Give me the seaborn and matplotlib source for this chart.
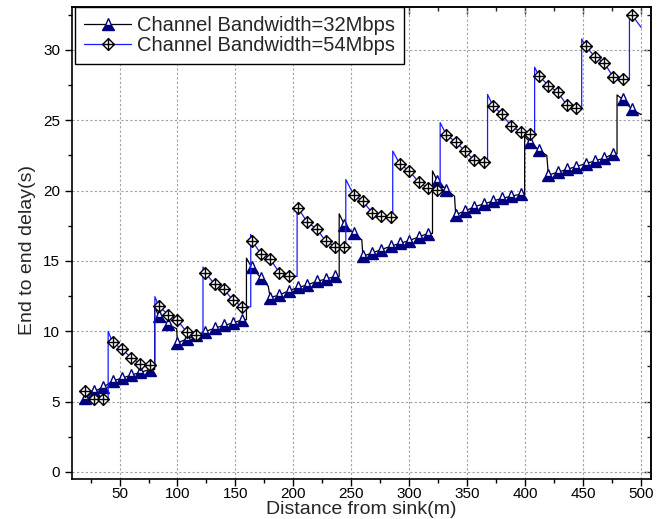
import numpy as np
import pandas as pd
import matplotlib
matplotlib.use("Agg")
import matplotlib.pyplot as plt
from matplotlib.path import Path
from matplotlib.ticker import MultipleLocator
import seaborn as sns

# Distances (m) of the marked samples, shared by both bandwidth settings
dist = [20, 28, 36, 44, 52, 60, 68, 76, 84, 92, 100, 108, 116, 124, 132,
        140, 148, 156, 164, 172, 180, 188, 196, 204, 212, 220, 228, 236,
        244, 252, 260, 268, 276, 284, 292, 300, 308, 316, 324, 332, 340,
        348, 356, 364, 372, 380, 388, 396, 404, 412, 420, 428, 436, 444,
        452, 460, 468, 476, 484, 492]

# End to end delay (s) at the marked samples
delay_32 = [5.27, 5.72, 6.03, 6.46, 6.67, 6.88, 7.08, 7.28,
            11.09, 10.49, 9.18, 9.44, 9.73, 9.98, 10.22, 10.42, 10.59, 10.82,
            14.54, 13.79, 12.39, 12.59, 12.88, 13.12, 13.29, 13.55, 13.71, 13.90,
            17.58, 16.96, 15.33, 15.57, 15.81, 16.05, 16.25, 16.45, 16.70, 16.95,
            20.70, 20.07, 18.29, 18.55, 18.85, 19.05, 19.25, 19.45, 19.60, 19.75,
            23.46, 22.86, 21.10, 21.31, 21.51, 21.71, 21.91, 22.11, 22.31, 22.61,
            26.49, 25.78]

delay_54 = [5.72, 5.17, 5.17,
            9.23, 8.73, 8.13, 7.68, 7.58,
            11.77, 11.19, 10.79, 9.93, 9.75,
            14.14, 13.36, 12.99, 12.19, 11.74,
            16.45, 15.52, 15.15, 14.14, 13.90,
            18.77, 17.75, 17.28, 16.40, 16.00, 16.00,
            19.70, 19.24, 18.41, 18.17, 18.10,
            21.86, 21.41, 20.60, 20.19, 20.02,
            23.96, 23.46, 22.81, 22.16, 22.01,
            26.04, 25.41, 24.58, 24.18, 23.99,
            28.14, 27.47, 27.01, 26.06, 25.90,
            30.28, 29.52, 29.09, 28.07, 27.91,
            32.49]

# Unmarked line vertices: sudden jumps between marked samples and the line end
edge_dist_32 = [80.3, 80.3, 99.3, 159.5, 159.5, 178.3, 239.5, 239.5, 259.0,
                320.0, 320.0, 339.0, 399.5, 399.5, 418.6, 479.2, 479.2, 500.0]
edge_delay_32 = [7.28, 11.70, 10.18, 10.82, 15.20, 13.20, 13.90, 18.35, 16.50,
                 16.95, 21.40, 19.60, 19.75, 23.85, 22.50, 22.61, 26.80, 25.40]

edge_dist_54 = [40.2, 40.2, 80.5, 80.5, 122.0, 122.0, 163.2, 163.2, 203.2, 203.2,
                245.2, 245.2, 285.7, 285.7, 326.6, 326.6, 367.5, 367.5, 408.1, 408.1,
                448.7, 448.7, 489.9, 489.9, 500.0]
edge_delay_54 = [5.17, 9.99, 7.58, 12.46, 9.75, 14.57, 11.74, 16.87, 13.90, 19.01,
                 16.00, 20.79, 18.10, 22.81, 20.02, 24.83, 22.01, 26.84, 23.99, 28.77,
                 25.90, 30.78, 27.91, 32.54, 31.60]

label_32 = "Channel Bandwidth=32Mbps"
label_54 = "Channel Bandwidth=54Mbps"


def build_line(d, v, ed, ev):
    df = pd.DataFrame({
        "dist": list(d) + list(ed),
        "delay": list(v) + list(ev),
        "marked": [True] * len(d) + [False] * len(ed),
    })
    df = df.sort_values("dist", kind="stable").reset_index(drop=True)
    return df, list(np.flatnonzero(df["marked"].to_numpy()))


line_32, marks_32 = build_line(dist, delay_32, edge_dist_32, edge_delay_32)
line_54, marks_54 = build_line(dist, delay_54, edge_dist_54, edge_delay_54)

sns.set_theme(style="ticks")
plt.rcParams["font.family"] = ["Liberation Sans", "DejaVu Sans"]

# diamond outline with a plus inside
diamond_plus = Path(
    [(0, 1), (1, 0), (0, -1), (-1, 0), (0, 1), (0, 1), (0, -1), (-1, 0), (1, 0)],
    [Path.MOVETO, Path.LINETO, Path.LINETO, Path.LINETO, Path.CLOSEPOLY,
     Path.MOVETO, Path.LINETO, Path.MOVETO, Path.LINETO],
)

fig = plt.figure(figsize=(6.64, 5.19), dpi=100)
ax = fig.add_axes([72 / 664, 40 / 519, 579 / 664, 472 / 519])

sns.lineplot(data=line_32, x="dist", y="delay", sort=False, estimator=None,
             ax=ax, color="black", linewidth=0.9, label=label_32,
             marker="^", markevery=marks_32, markersize=8,
             fillstyle="bottom", markerfacecolor="#000080",
             markerfacecoloralt="white", markeredgecolor="#000080",
             markeredgewidth=1.0)

sns.lineplot(data=line_54, x="dist", y="delay", sort=False, estimator=None,
             ax=ax, color="#1a1aff", linewidth=0.9, label=label_54,
             marker=diamond_plus, markevery=marks_54, markersize=8.5,
             markerfacecolor="white", markeredgecolor="black",
             markeredgewidth=1.0)

ax.set_xlim(9, 508.5)
ax.set_ylim(-0.5, 33.05)
ax.xaxis.set_major_locator(MultipleLocator(50))
ax.xaxis.set_minor_locator(MultipleLocator(25))
ax.yaxis.set_major_locator(MultipleLocator(5))
ax.yaxis.set_minor_locator(MultipleLocator(2.5))

ax.grid(True, which="major", color="#a0a0a0", linestyle=(0, (2, 2)), linewidth=0.8)
ax.set_axisbelow(True)

for s in ax.spines.values():
    s.set_linewidth(1.2)
    s.set_color("black")

ax.tick_params(which="both", direction="out", colors="black", labelsize=11,
               width=1.0, top=False, right=False)
ax.tick_params(which="major", length=5)
ax.tick_params(which="minor", length=3)
ax.tick_params(axis="x", which="both", pad=1.0)

top = ax.secondary_xaxis("top")
top.xaxis.set_major_locator(MultipleLocator(50))
top.xaxis.set_minor_locator(MultipleLocator(25))
top.tick_params(which="both", direction="in", labeltop=False, width=1.0)
top.tick_params(which="major", length=5)
top.tick_params(which="minor", length=3)
top.spines["top"].set_linewidth(1.2)

right = ax.secondary_yaxis("right")
right.yaxis.set_major_locator(MultipleLocator(5))
right.yaxis.set_minor_locator(MultipleLocator(2.5))
right.tick_params(which="both", direction="in", labelright=False, width=1.0)
right.tick_params(which="major", length=5)
right.tick_params(which="minor", length=3)
right.spines["right"].set_linewidth(1.2)

ax.set_xlabel("Distance from sink(m)", fontsize=14, labelpad=0)
ax.set_ylabel("End to end delay(s)", fontsize=14)
ax.yaxis.set_label_coords(-0.062, 0.485)

leg = ax.legend(loc="upper left", bbox_to_anchor=(0.005, 1), borderaxespad=0,
                frameon=True, fancybox=False, edgecolor="black", framealpha=1,
                fontsize=14.5, handlelength=2.35, handletextpad=0.3,
                labelspacing=0.05, borderpad=0.45)
leg.get_frame().set_linewidth(1.0)

fig.savefig("out.png", dpi=100)
